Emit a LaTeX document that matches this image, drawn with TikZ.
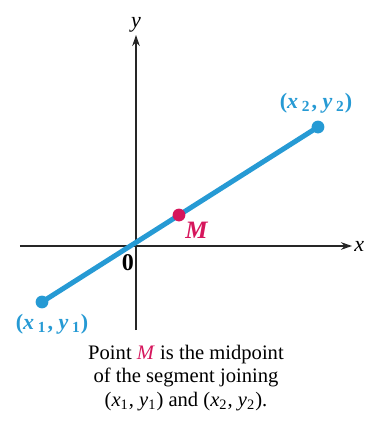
\documentclass[tikz,border=0pt]{standalone}
\usepackage{fontspec}
\setmainfont{Liberation Serif}
\usepackage{xcolor}
\usetikzlibrary{arrows.meta,positioning}
\definecolor{segblue}{RGB}{38,154,212}
\definecolor{midred}{RGB}{214,22,92}
\newcommand{\ptlabel}[1]{(\textit{x}\,\textsubscript{#1}\kern0.5pt, \textit{y}\,\textsubscript{#1})}
\newcommand{\pttext}[1]{(\textit{x}\textsubscript{#1}, \textit{y}\textsubscript{#1})}

\begin{document}
\begin{tikzpicture}[
    x=0.5pt, y=0.5pt,
    axis/.style={draw=black!85, line width=0.65pt, -{Stealth[length=5.5pt, width=3.8pt]}},
    seg/.style={draw=segblue, line width=2.5pt},
    dot/.style={circle, fill=#1, inner sep=0pt, minimum size=6.4pt},
    lbl/.style={font=\fontsize{11}{12}\selectfont\bfseries, text=segblue, inner sep=1pt},
    caption/.style={align=center, font=\fontsize{10.3}{11.8}\selectfont}
]
\useasboundingbox (0,0) rectangle (369,447);

% Axes
\coordinate (o) at (136,201);
\coordinate (xl) at (20,201);
\coordinate (xr) at (352,201);
\coordinate (yb) at (136,117);
\coordinate (yt) at (136,412);
\draw[axis] (xl) -- (xr);
\draw[axis] (yb) -- (yt);
\node[anchor=west, inner sep=1pt, font=\fontsize{11}{12}\selectfont\itshape] (xlab) at (xr) {x};
\node[anchor=south, inner sep=1pt, font=\fontsize{11}{12}\selectfont\itshape] (ylab) at (yt) {y};
\node[font=\fontsize{12}{13}\selectfont\bfseries, inner sep=1pt] (zero) at (128,184) {0};

% Segment and points
\node[dot=segblue] (p1) at (42,145) {};
\node[dot=segblue] (p2) at (318,320) {};
\draw[seg] (p1.center) -- (p2.center);
\node[dot=midred] (m) at (179,232) {};

% Labels
\node[lbl] (p1lab) at (52,123) {\ptlabel{1}};
\node[lbl] (p2lab) at (316,344) {\ptlabel{2}};
\node[lbl, text=midred, font=\fontsize{12.5}{13}\selectfont\bfseries\itshape, anchor=north west] (mlab) at (183,227) {M};

% Caption
\node[caption] (cap) at (186,69) {Point \textcolor{midred}{\textit{M}} is the midpoint\\of the segment joining\\\pttext{1} and \pttext{2}.};

\end{tikzpicture}
\end{document}
